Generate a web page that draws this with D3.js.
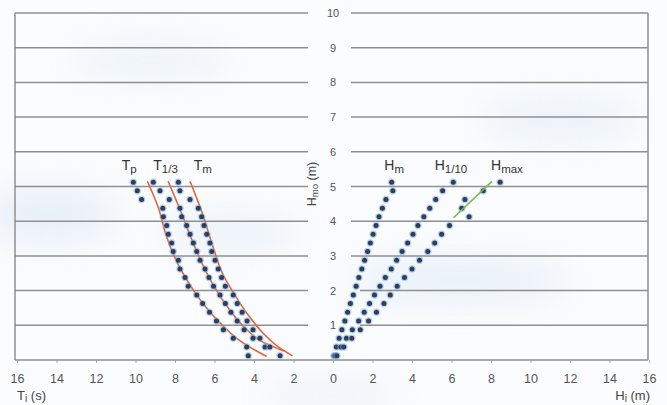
<!DOCTYPE html>
<html><head><meta charset="utf-8">
<script src="https://cdn.jsdelivr.net/npm/d3@7"></script>
<style>
html,body{margin:0;padding:0;background:#fbfcfd;}
svg{display:block;font-family:"Liberation Sans",Arial,sans-serif;}
</style></head>
<body><svg id="c" width="667" height="405"></svg>
<script>
// Hmo bin centres (m), bottom to top
const hmo = [0.125,0.375,0.625,0.875,1.125,1.375,1.625,1.875,2.125,2.375,2.625,2.875,3.125,3.375,3.625,3.875,4.125,4.375,4.625,4.875,5.125];
// periods (s) - drawn to the left
const Tp  = [4.29,4.37,5.05,5.55,5.9,6.25,6.6,6.9,7.33,7.49,7.75,7.83,8.09,8.17,8.34,8.42,8.59,8.62,9.69,9.91,10.11];
const T13 = [null,3.44,4.05,4.5,4.85,5.17,5.45,5.72,6.05,6.28,6.48,6.73,6.9,7.07,7.24,7.41,7.66,7.75,8.29,8.76,9.1];
const Tm  = [2.68,3.2,3.7,4.05,4.35,4.6,4.85,5.05,5.45,5.64,5.81,5.97,6.14,6.23,6.39,6.53,6.65,6.82,7.24,7.75,7.83];
// heights (m) - drawn to the right
const Hm   = [0.05,0.17,0.31,0.45,0.6,0.74,0.88,1.03,1.17,1.31,1.46,1.6,1.75,1.89,2.03,2.18,2.33,2.5,2.68,3.03,2.97];
const H110 = [0.12,0.4,0.68,0.98,1.3,1.58,1.85,2.1,2.38,2.65,2.95,3.22,3.5,3.78,4.05,4.3,4.6,4.9,5.2,5.55,6.09];
const Hmax = [0.2,0.55,0.95,1.38,1.8,2.2,2.58,2.9,3.25,3.62,4.0,4.38,4.8,5.15,5.5,5.9,6.89,6.52,6.68,7.61,8.46];
// fitted curves (red) for periods
const fitTpT  = [9.4,8.85,8.45,8.05,7.6,7.05,6.4,5.6,4.7,3.36];
const fitTpH  = [5.15,4.4,3.6,3.0,2.5,2.0,1.5,1.0,0.55,0.1];
const fitT13T = [8.35,7.65,7.1,6.6,6.0,5.3,4.5,3.5,2.45];
const fitT13H = [5.15,4.2,3.4,2.75,2.1,1.5,0.95,0.5,0.25];
const fitTmT  = [7.24,6.6,6.1,5.6,5.0,4.3,3.5,2.7,2.05];
const fitTmH  = [5.15,4.2,3.3,2.5,1.9,1.3,0.75,0.35,0.12];
// green fit for Hmax
const fitHmaxX = [6.1,8.05];
const fitHmaxY = [4.1,5.15];
// ticks
const xTicks = [-16,-14,-12,-10,-8,-6,-4,-2,0,2,4,6,8,10,12,14,16];
const yTicks = [1,2,3,4,5,6,7,8,9,10];

const svg = d3.select("#c");
const x = d3.scaleLinear().domain([-16,16]).range([17,649]);
const y = d3.scaleLinear().domain([0,10]).range([360,13]);

// background wash
const defs = svg.append("defs");
defs.append("filter").attr("id","blur").attr("x","-50%").attr("y","-50%").attr("width","200%").attr("height","200%")
  .append("feGaussianBlur").attr("stdDeviation",18);
const bg = svg.append("g").attr("filter","url(#blur)").attr("opacity",0.4);
[[50,215,70,28],[230,232,70,16],[460,280,110,22],[560,120,80,18],[150,60,80,14],[330,395,70,10]].forEach(e=>{
  bg.append("ellipse").attr("cx",e[0]).attr("cy",e[1]).attr("rx",e[2]).attr("ry",e[3]).attr("fill","#c9def0");
});

const gridCol = "#8f8f8f";
// frame verticals
svg.append("line").attr("x1",15).attr("x2",15).attr("y1",y(10)).attr("y2",y(0)).attr("stroke",gridCol).attr("stroke-width",1.5);
svg.append("line").attr("x1",648).attr("x2",648).attr("y1",y(10)).attr("y2",y(0)).attr("stroke",gridCol).attr("stroke-width",1.5);
// gridlines split around the centre labels
yTicks.forEach(t=>{
  const rightStart = t<=2 ? 360 : 351;
  svg.append("line").attr("x1",15).attr("x2",308).attr("y1",y(t)).attr("y2",y(t)).attr("stroke",gridCol).attr("stroke-width",1.5);
  svg.append("line").attr("x1",rightStart).attr("x2",648).attr("y1",y(t)).attr("y2",y(t)).attr("stroke",gridCol).attr("stroke-width",1.5);
  svg.append("text").attr("x",x(0)).attr("y",y(t)+4).attr("text-anchor","middle")
    .attr("font-size",11).attr("fill","#555").text(t);
});
// bottom axis
const ax = svg.append("g").attr("transform",`translate(0,${y(0)})`)
  .call(d3.axisBottom(x).tickValues(xTicks).tickFormat(d=>Math.abs(d)).tickSize(3).tickPadding(11));
ax.select(".domain").remove();
ax.selectAll(".tick line").attr("stroke","#aaa");
ax.selectAll(".tick text").attr("font-size",12.5).attr("fill","#555").attr("font-family","Liberation Sans, Arial, sans-serif");
svg.append("line").attr("x1",15).attr("x2",648).attr("y1",y(0)).attr("y2",y(0)).attr("stroke",gridCol).attr("stroke-width",1.5);

// axis titles
const tt = svg.append("text").attr("x",17).attr("y",400).attr("font-size",13).attr("fill","#444");
tt.append("tspan").text("T");
tt.append("tspan").attr("dy",2).attr("font-size",10).text("i");
tt.append("tspan").attr("dy",-2).text(" (s)");
const ht = svg.append("text").attr("x",650).attr("y",400).attr("text-anchor","end").attr("font-size",13).attr("fill","#444");
ht.append("tspan").text("H");
ht.append("tspan").attr("dy",2).attr("font-size",10).text("i");
ht.append("tspan").attr("dy",-2).text(" (m)");
const yt = svg.append("text").attr("transform","translate(316,184) rotate(-90)").attr("text-anchor","middle").attr("font-size",12.5).attr("fill","#444");
yt.append("tspan").text("H");
yt.append("tspan").attr("dy",2).attr("font-size",9.5).text("mo");
yt.append("tspan").attr("dy",-2).text(" (m)");

// fitted curves
const line = d3.line().x(d=>x(d[0])).y(d=>y(d[1])).curve(d3.curveMonotoneY);
function fit(Ts,Hs,sign,col){
  const pts = Ts.map((t,i)=>[sign*t,Hs[i]]).sort((a,b)=>a[1]-b[1]);
  svg.append("path").attr("d",line(pts)).attr("fill","none").attr("stroke",col).attr("stroke-width",1.6);
}
fit(fitTpT,fitTpH,-1,"#e2643c");
fit(fitT13T,fitT13H,-1,"#e2643c");
fit(fitTmT,fitTmH,-1,"#e2643c");

// dots
function dots(vals,sign){
  const data = vals.map((v,i)=>({v,h:hmo[i]})).filter(d=>d.v!==null);
  const g = svg.append("g");
  g.selectAll(".halo").data(data).join("circle").attr("cx",d=>x(sign*d.v)).attr("cy",d=>y(d.h))
    .attr("r",3.7).attr("fill","#7fb3dc").attr("opacity",0.55);
  g.selectAll(".core").data(data).join("circle").attr("cx",d=>x(sign*d.v)).attr("cy",d=>y(d.h))
    .attr("r",2.5).attr("fill","#2f3d60");
}
dots(Tp,-1); dots(T13,-1); dots(Tm,-1);
dots(Hm,1); dots(H110,1); dots(Hmax,1);

// green fit
svg.append("line").attr("x1",x(fitHmaxX[0])).attr("y1",y(fitHmaxY[0])).attr("x2",x(fitHmaxX[1])).attr("y2",y(fitHmaxY[1]))
  .attr("stroke","#7cb84a").attr("stroke-width",1.6);

// series labels
function lab(xv,main,sub){
  const t = svg.append("text").attr("x",x(xv)).attr("y",170).attr("font-size",14).attr("fill","#333");
  t.append("tspan").text(main);
  t.append("tspan").attr("dy",3).attr("font-size",11.5).text(sub);
}
lab(-10.7,"T","p");
lab(-9.1,"T","1/3");
lab(-7.05,"T","m");
lab(2.6,"H","m");
lab(5.15,"H","1/10");
lab(8.0,"H","max");
</script></body></html>
